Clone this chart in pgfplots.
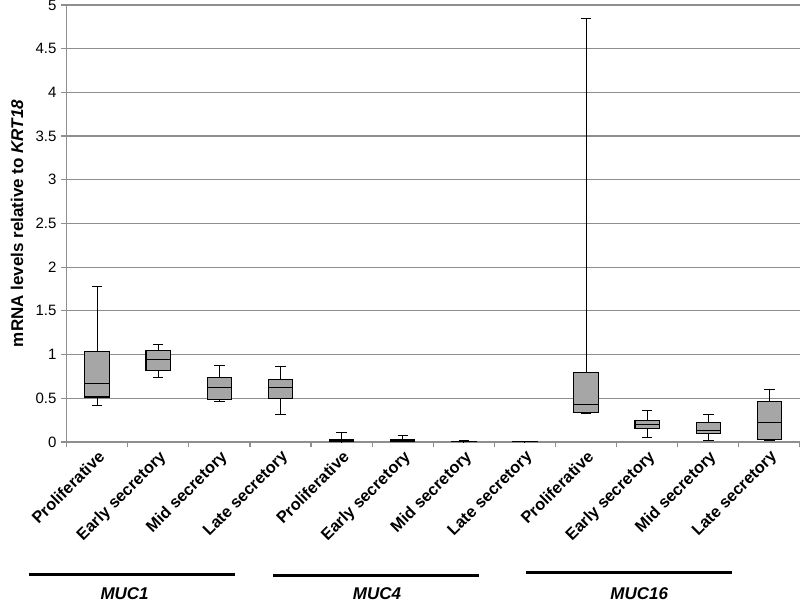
\documentclass[border=0pt]{standalone}
\usepackage{fontspec}
\setmainfont{Liberation Sans}
\usepackage{pgfplots}
\pgfplotsset{compat=1.18}
\usepgfplotslibrary{statistics}
\definecolor{boxgray}{HTML}{A6A6A6}
\definecolor{gridgray}{HTML}{8E8E8E}

\begin{document}
\begin{tikzpicture}
% picture frame, in pt (1 px of the reference = 0.75pt)
\useasboundingbox (-49.9pt,-122.25pt) rectangle (550.1pt,331.5pt);
\begin{axis}[
    at={(0,0)}, anchor=south west,
    scale only axis, width=550.1pt, height=327.75pt,
    xmin=-0.5, xmax=11.5, ymin=0, ymax=5,
    axis lines*=left,
    axis line style={draw=gridgray, line width=0.9pt, -},
    ytick={0,0.5,...,5},
    ymajorgrids, grid style={gridgray, line width=0.9pt},
    xtick={0,...,11},
    xticklabels={Proliferative, Early secretory, Mid secretory, Late secretory,
                 Proliferative, Early secretory, Mid secretory, Late secretory,
                 Proliferative, Early secretory, Mid secretory, Late secretory},
    minor xtick={-0.5,0.5,...,11.5},
    major x tick style={draw=none},
    tick align=outside,
    major tick length=4pt, minor tick length=4pt,
    tick style={gridgray, line width=0.9pt},
    xticklabel style={rotate=45, anchor=north east, inner sep=1pt,
                      font=\bfseries\fontsize{12.25}{14}\selectfont},
    yticklabel style={font=\fontsize{11.25}{13}\selectfont,
                      /pgf/number format/assume math mode=true},
    ylabel={\bfseries mRNA levels relative to \textit{KRT18}},
    ylabel style={at={(axis description cs:-0.0675,0.5)}, anchor=center,
                  font=\fontsize{12.75}{15}\selectfont},
    boxplot/draw direction=y,
    boxplot/box extend=0.4,
    boxplot/whisker extend=0.17,
    clip=false,
    every axis plot/.append style={draw=black, fill=boxgray, line width=0.8pt},
]

% MUC1
\addplot[boxplot prepared={draw position=0, lower whisker=0.42, lower quartile=0.515,
    median=0.67, upper quartile=1.04, upper whisker=1.78}] coordinates {};
\addplot[boxplot prepared={draw position=1, lower whisker=0.74, lower quartile=0.82,
    median=0.94, upper quartile=1.05, upper whisker=1.12}] coordinates {};
\addplot[boxplot prepared={draw position=2, lower whisker=0.465, lower quartile=0.49,
    median=0.62, upper quartile=0.735, upper whisker=0.875}] coordinates {};
\addplot[boxplot prepared={draw position=3, lower whisker=0.31, lower quartile=0.50,
    median=0.62, upper quartile=0.72, upper whisker=0.86}] coordinates {};
% MUC4
\addplot[boxplot prepared={draw position=4, lower whisker=0.003, lower quartile=0.005,
    median=0.015, upper quartile=0.025, upper whisker=0.11}] coordinates {};
\addplot[boxplot prepared={draw position=5, lower whisker=0.004, lower quartile=0.006,
    median=0.02, upper quartile=0.032, upper whisker=0.07}] coordinates {};
\addplot[boxplot prepared={draw position=6, lower whisker=0.003, lower quartile=0.004,
    median=0.006, upper quartile=0.009, upper whisker=0.011}] coordinates {};
\addplot[boxplot prepared={draw position=7, lower whisker=0.003, lower quartile=0.004,
    median=0.006, upper quartile=0.008, upper whisker=0.010}] coordinates {};
% MUC16
\addplot[boxplot prepared={draw position=8, lower whisker=0.33, lower quartile=0.34,
    median=0.43, upper quartile=0.80, upper whisker=4.85}] coordinates {};
\addplot[boxplot prepared={draw position=9, lower whisker=0.05, lower quartile=0.155,
    median=0.20, upper quartile=0.245, upper whisker=0.36}] coordinates {};
\addplot[boxplot prepared={draw position=10, lower whisker=0.02, lower quartile=0.095,
    median=0.13, upper quartile=0.22, upper whisker=0.31}] coordinates {};
\addplot[boxplot prepared={draw position=11, lower whisker=0.02, lower quartile=0.025,
    median=0.22, upper quartile=0.46, upper whisker=0.605}] coordinates {};

% gene group bars and names under the category labels
\draw[line width=2.2pt] (axis cs:-1.12,-1.52) -- (axis cs:2.26,-1.52);
\draw[line width=2.2pt] (axis cs:2.88,-1.53) -- (axis cs:6.25,-1.53);
\draw[line width=2.2pt] (axis cs:7.02,-1.49) -- (axis cs:10.39,-1.49);
\node[font=\bfseries\itshape\fontsize{12.75}{15}\selectfont]
    at (axis cs:0.45,-1.73) {MUC1};
\node[font=\bfseries\itshape\fontsize{12.75}{15}\selectfont]
    at (axis cs:4.58,-1.73) {MUC4};
\node[font=\bfseries\itshape\fontsize{12.75}{15}\selectfont]
    at (axis cs:8.87,-1.73) {MUC16};
\end{axis}
\end{tikzpicture}
\end{document}
